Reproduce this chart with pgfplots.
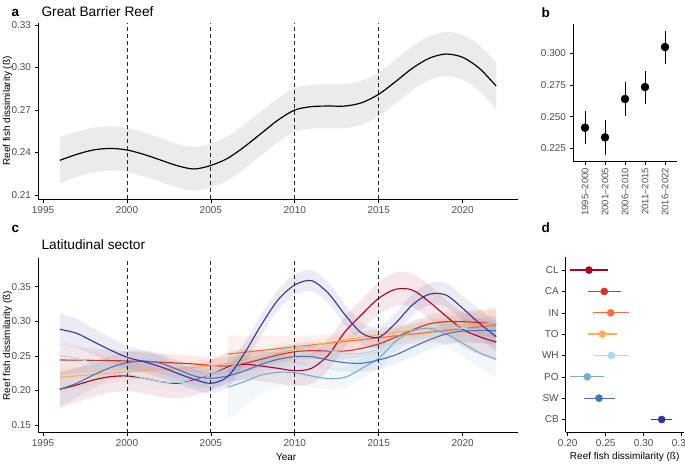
\documentclass[border=0pt]{standalone}
\usepackage{fontspec}
\setmainfont{Liberation Sans}
\usepackage{pgfplots}
\pgfplotsset{compat=1.18}
\usepackage{pgfplotstable}
\usepgfplotslibrary{fillbetween}

\definecolor{cCL}{HTML}{A50026}
\definecolor{cCA}{HTML}{D73027}
\definecolor{cIN}{HTML}{F46D43}
\definecolor{cTO}{HTML}{FDAE61}
\definecolor{cWH}{HTML}{ABD9E9}
\definecolor{cPO}{HTML}{74ADD1}
\definecolor{cSW}{HTML}{4575B4}
\definecolor{cCB}{HTML}{313695}
\definecolor{tickgrey}{HTML}{4D4D4D}
\definecolor{ribgrey}{HTML}{EBEBEB}

\pgfplotsset{
  gg/.style={
    scale only axis, anchor=south west,
    axis lines*=left,
    axis line style={line width=0.75pt, black},
    tick align=outside, major tick length=3.5pt,
    tick style={line width=0.6pt, black},
    tick label style={font=\fontsize{10}{11}\selectfont, text=tickgrey},
    /pgf/number format/assume math mode=true,
    label style={font=\fontsize{11.5}{13}\selectfont},
  },
  vline/.style={black!85, line width=0.9pt, dash pattern=on 4pt off 3pt, forget plot},
}

% panel a: GBR-wide trend (fit and half-width of the ribbon)
\pgfplotstableread{
year fit ci
1996 0.2345 0.0165
1997 0.2387 0.0160
1998 0.2418 0.0158
1999 0.2429 0.0156
2000 0.2418 0.0155
2001 0.2387 0.0155
2002 0.2347 0.0155
2003 0.2307 0.0155
2004 0.2284 0.0155
2005 0.2309 0.0155
2006 0.2359 0.0155
2007 0.2441 0.0155
2008 0.2535 0.0155
2009 0.2629 0.0155
2010 0.2700 0.0155
2011 0.2724 0.0155
2012 0.2728 0.0155
2013 0.2728 0.0155
2014 0.2752 0.0155
2015 0.2811 0.0155
2016 0.2900 0.0155
2017 0.2994 0.0155
2018 0.3065 0.0155
2019 0.3095 0.0155
2020 0.3072 0.0158
2021 0.2994 0.0162
2022 0.2869 0.0165
}\tabA

% panel b: five-year periods
\pgfplotstableread{
x y ep em
1 0.2413 0.0132 0.0131
2 0.2337 0.0137 0.0140
3 0.2640 0.0131 0.0132
4 0.2734 0.0129 0.0134
5 0.3050 0.0129 0.0134
}\tabB

% panel c: sectors with full time series
\pgfplotstableread{
year CL CLc CA CAc TO TOc WH WHc SW SWc CB CBc
1996 0.2017 0.027 0.2440 0.022 0.2190 0.020 0.2503 0.021 0.2017 0.024 0.2884 0.023
1997 0.2079 0.025 0.2438 0.019 0.2210 0.018 0.2465 0.018 0.2103 0.021 0.2826 0.021
1998 0.2151 0.024 0.2435 0.017 0.2230 0.016 0.2393 0.016 0.2223 0.019 0.2705 0.019
1999 0.2199 0.023 0.2432 0.015 0.2250 0.015 0.2320 0.015 0.2329 0.017 0.2585 0.018
2000 0.2209 0.022 0.2426 0.014 0.2270 0.014 0.2248 0.014 0.2401 0.016 0.2479 0.017
2001 0.2176 0.022 0.2418 0.013 0.2285 0.013 0.2176 0.013 0.2426 0.015 0.2416 0.016
2002 0.2127 0.022 0.2408 0.012 0.2300 0.012 0.2127 0.013 0.2393 0.015 0.2343 0.016
2003 0.2103 0.022 0.2396 0.012 0.2320 0.011 0.2113 0.012 0.2306 0.014 0.2248 0.015
2004 0.2151 0.022 0.2383 0.012 0.2335 0.010 0.2137 0.012 0.2209 0.014 0.2161 0.015
2005 0.2223 0.022 0.2360 0.012 0.2355 0.010 0.2223 0.012 0.2176 0.014 0.2103 0.015
2006 0.2335 0.022 0.2353 0.012 0.2390 0.009 0.2320 0.012 0.2209 0.013 0.2199 0.015
2007 0.2378 0.022 0.2392 0.012 0.2440 0.009 0.2416 0.012 0.2281 0.013 0.2537 0.015
2008 0.2353 0.022 0.2450 0.012 0.2490 0.008 0.2488 0.012 0.2378 0.013 0.2946 0.015
2009 0.2320 0.022 0.2513 0.012 0.2540 0.008 0.2560 0.012 0.2450 0.013 0.3308 0.015
2010 0.2286 0.022 0.2560 0.012 0.2590 0.008 0.2624 0.012 0.2488 0.013 0.3525 0.015
2011 0.2320 0.022 0.2575 0.012 0.2640 0.008 0.2624 0.012 0.2488 0.013 0.3587 0.015
2012 0.2513 0.022 0.2570 0.012 0.2690 0.008 0.2585 0.012 0.2440 0.013 0.3404 0.015
2013 0.2850 0.022 0.2570 0.012 0.2730 0.008 0.2537 0.012 0.2401 0.013 0.3091 0.015
2014 0.3100 0.022 0.2609 0.012 0.2770 0.009 0.2537 0.012 0.2393 0.013 0.2826 0.015
2015 0.3332 0.023 0.2672 0.012 0.2805 0.009 0.2595 0.012 0.2440 0.013 0.2768 0.015
2016 0.3462 0.024 0.2768 0.012 0.2840 0.010 0.2730 0.012 0.2513 0.013 0.2970 0.015
2017 0.3452 0.024 0.2874 0.012 0.2870 0.011 0.2850 0.012 0.2624 0.014 0.3235 0.015
2018 0.3283 0.024 0.2961 0.013 0.2900 0.012 0.2898 0.013 0.2730 0.014 0.3390 0.016
2019 0.3076 0.024 0.2994 0.014 0.2920 0.014 0.2922 0.014 0.2816 0.015 0.3380 0.017
2020 0.2884 0.025 0.2994 0.016 0.2940 0.015 0.2898 0.015 0.2860 0.016 0.3188 0.018
2021 0.2777 0.026 0.2980 0.018 0.2955 0.017 0.2864 0.017 0.2864 0.018 0.2970 0.020
2022 0.2700 0.027 0.2961 0.021 0.2970 0.020 0.2816 0.020 0.2864 0.021 0.2777 0.022
}\tabC

% panel c: sectors surveyed from 2006 only
\pgfplotstableread{
year IN INc PO POc
2006 0.2525 0.027 0.2045 0.046
2007 0.2551 0.024 0.2127 0.036
2008 0.2578 0.021 0.2223 0.027
2009 0.2604 0.018 0.2262 0.021
2010 0.2630 0.016 0.2257 0.018
2011 0.2656 0.014 0.2209 0.016
2012 0.2683 0.013 0.2170 0.015
2013 0.2709 0.012 0.2190 0.015
2014 0.2735 0.012 0.2320 0.015
2015 0.2761 0.012 0.2465 0.015
2016 0.2788 0.013 0.2705 0.015
2017 0.2814 0.014 0.2860 0.015
2018 0.2840 0.016 0.2898 0.016
2019 0.2866 0.018 0.2816 0.017
2020 0.2893 0.021 0.2682 0.019
2021 0.2919 0.024 0.2546 0.022
2022 0.2945 0.027 0.2450 0.026
}\tabD

\newcommand{\ribbon}[3]{% table, column, colour
  \addplot[draw=none, smooth, name path=#2hi, forget plot]
    table[x=year, y expr=\thisrow{#2}+\thisrow{#2c}] {#1};
  \addplot[draw=none, smooth, name path=#2lo, forget plot]
    table[x=year, y expr=\thisrow{#2}-\thisrow{#2c}] {#1};
  \addplot[fill=#3, fill opacity=0.1, draw=none, forget plot]
    fill between[of=#2hi and #2lo];
}

\begin{document}
\begin{tikzpicture}

% ---------- a ----------
\begin{axis}[gg,
  at={(38pt,-199pt)}, width=480pt, height=176pt,
  xmin=1994.7, xmax=2023.3, ymin=0.2072, ymax=0.3314,
  xtick={1995,2000,...,2020},
  xticklabel style={/pgf/number format/1000 sep={}},
  ytick={0.21,0.24,0.27,0.30,0.33},
  yticklabel style={/pgf/number format/.cd, fixed, fixed zerofill, precision=2},
  ylabel={Reef fish dissimilarity (ß)},
  every axis y label/.style={at={(axis description cs:-0.0635,0.5)}, rotate=90, anchor=center},
]
\addplot[draw=none, smooth, name path=ahi, forget plot] table[x=year, y expr=\thisrow{fit}+\thisrow{ci}] {\tabA};
\addplot[draw=none, smooth, name path=alo, forget plot] table[x=year, y expr=\thisrow{fit}-\thisrow{ci}] {\tabA};
\addplot[fill=ribgrey, draw=none, forget plot] fill between[of=ahi and alo];
\addplot[black, line width=1.2pt, smooth] table[x=year, y=fit] {\tabA};
\addplot[vline] coordinates {(2000,0.2072) (2000,0.3314)};
\addplot[vline] coordinates {(2005,0.2072) (2005,0.3314)};
\addplot[vline] coordinates {(2010,0.2072) (2010,0.3314)};
\addplot[vline] coordinates {(2015,0.2072) (2015,0.3314)};
\end{axis}

% ---------- b ----------
\begin{axis}[gg,
  at={(573pt,-161pt)}, width=104pt, height=137pt,
  xmin=0.4, xmax=5.6, ymin=0.215, ymax=0.3232,
  xtick={1,...,5},
  xticklabels={1995–2000,2001–2005,2006–2010,2011–2015,2016–2022},
  xticklabel style={rotate=90, anchor=east, font=\fontsize{9.5}{11}\selectfont},
  ytick={0.225,0.250,0.275,0.300},
  yticklabel style={/pgf/number format/.cd, fixed, fixed zerofill, precision=3},
]
\addplot[black, only marks, mark=*, mark size=4pt,
  error bars/.cd, y dir=both, y explicit,
  error mark=none, error bar style={line width=1pt, black}]
  table[x=x, y=y, y error plus=ep, y error minus=em] {\tabB};
\end{axis}

% ---------- c ----------
\begin{axis}[gg,
  at={(38pt,-432.7pt)}, width=480pt, height=174.4pt,
  xmin=1994.7, xmax=2023.3, ymin=0.1389, ymax=0.391,
  xtick={1995,2000,...,2020},
  xticklabel style={/pgf/number format/1000 sep={}},
  ytick={0.15,0.20,0.25,0.30,0.35},
  yticklabel style={/pgf/number format/.cd, fixed, fixed zerofill, precision=2},
  xlabel={Year},
  every axis x label/.style={at={(axis description cs:0.517,0)}, anchor=center, yshift=-24.5pt},
  ylabel={Reef fish dissimilarity (ß)},
  every axis y label/.style={at={(axis description cs:-0.0635,0.5)}, rotate=90, anchor=center},
]
\ribbon{\tabC}{CL}{cCL}
\ribbon{\tabC}{CA}{cCA}
\ribbon{\tabD}{IN}{cIN}
\ribbon{\tabC}{TO}{cTO}
\ribbon{\tabC}{WH}{cWH}
\ribbon{\tabD}{PO}{cPO}
\ribbon{\tabC}{SW}{cSW}
\ribbon{\tabC}{CB}{cCB}
\addplot[cCL, line width=1.1pt, smooth] table[x=year, y=CL] {\tabC};
\addplot[cCA, line width=1.1pt, smooth] table[x=year, y=CA] {\tabC};
\addplot[cIN, line width=1.1pt, smooth] table[x=year, y=IN] {\tabD};
\addplot[cTO, line width=1.1pt, smooth] table[x=year, y=TO] {\tabC};
\addplot[cWH, line width=1.1pt, smooth] table[x=year, y=WH] {\tabC};
\addplot[cPO, line width=1.1pt, smooth] table[x=year, y=PO] {\tabD};
\addplot[cSW, line width=1.1pt, smooth] table[x=year, y=SW] {\tabC};
\addplot[cCB, line width=1.1pt, smooth] table[x=year, y=CB] {\tabC};
\addplot[vline] coordinates {(2000,0.1389) (2000,0.391)};
\addplot[vline] coordinates {(2005,0.1389) (2005,0.391)};
\addplot[vline] coordinates {(2010,0.1389) (2010,0.391)};
\addplot[vline] coordinates {(2015,0.1389) (2015,0.391)};
\end{axis}

% ---------- d ----------
\begin{axis}[gg,
  at={(565.7pt,-432.3pt)}, width=118pt, height=175pt,
  xmin=0.1974, xmax=0.3527, ymin=0.4, ymax=8.6,
  xtick={0.20,0.25,0.30,0.35},
  xticklabel style={/pgf/number format/.cd, fixed, fixed zerofill, precision=2},
  ytick={1,...,8},
  yticklabels={CB,SW,PO,WH,TO,IN,CA,CL},
  xlabel={Reef fish dissimilarity (ß)},
  every axis x label/.style={at={(axis description cs:0.5,0)}, anchor=center, yshift=-24.5pt},
  dot/.style={only marks, mark=*, mark size=3.6pt, color=#1,
    error bars/.cd, x dir=both, x explicit, error mark=none,
    error bar style={line width=1.3pt, color=#1}},
]
\addplot[dot=cCL] coordinates {(0.2280,8) += (0.0246,0) -= (0.0250,0)};
\addplot[dot=cCA] coordinates {(0.2482,7) += (0.0215,0) -= (0.0210,0)};
\addplot[dot=cIN] coordinates {(0.2566,6) += (0.0241,0) -= (0.0236,0)};
\addplot[dot=cTO] coordinates {(0.2456,5) += (0.0198,0) -= (0.0193,0)};
\addplot[dot=cWH] coordinates {(0.2575,4) += (0.0236,0) -= (0.0229,0)};
\addplot[dot=cPO] coordinates {(0.2259,3) += (0.0223,0) -= (0.0229,0)};
\addplot[dot=cSW] coordinates {(0.2412,2) += (0.0210,0) -= (0.0193,0)};
\addplot[dot=cCB] coordinates {(0.3237,1) += (0.0140,0) -= (0.0140,0)};
\end{axis}

% titles and panel letters
\node[anchor=base west, font=\fontsize{13.5}{15}\bfseries] at (8pt,-16.5pt) {a};
\node[anchor=base west, font=\fontsize{13.7}{15}\selectfont] at (38pt,-16pt) {Great Barrier Reef};
\node[anchor=base west, font=\fontsize{13.5}{15}\bfseries] at (538pt,-17pt) {b};
\node[anchor=base west, font=\fontsize{13.5}{15}\bfseries] at (8pt,-232.5pt) {c};
\node[anchor=base west, font=\fontsize{13.7}{15}\selectfont] at (38pt,-249pt) {Latitudinal sector};
\node[anchor=base west, font=\fontsize{13.5}{15}\bfseries] at (538pt,-232.7pt) {d};

\pgfresetboundingbox
\path[use as bounding box] (0,0) rectangle (685pt,-467pt);
\end{tikzpicture}
\end{document}
